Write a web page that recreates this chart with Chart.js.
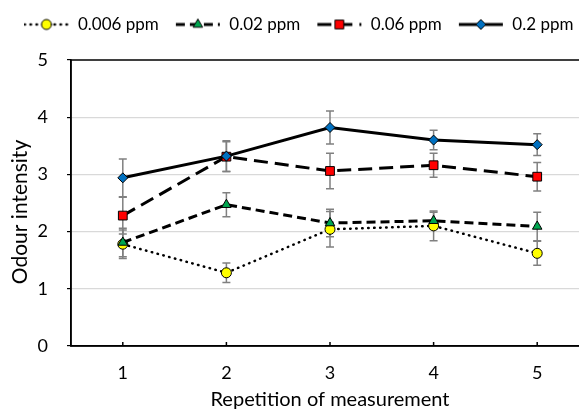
<!DOCTYPE html>
<html>
<head>
<meta charset="utf-8">
<script src="https://cdn.jsdelivr.net/npm/chart.js@4.4.0/dist/chart.umd.min.js"></script>
<style>
  html, body { margin: 0; padding: 0; background: #fff; }
  #wrap { width: 579px; height: 411px; overflow: hidden; }
  canvas { display: block; }
</style>
</head>
<body>
<div id="wrap"><canvas id="odour" width="640" height="411"></canvas></div>
<script>
// measurement repetitions and mean odour intensity per concentration
const repetitions = ['1', '2', '3', '4', '5'];
const seriesNames = ['0.006 ppm', '0.02 ppm', '0.06 ppm', '0.2 ppm'];
const mean006 = [1.78, 1.28, 2.04, 2.10, 1.62];
const mean02  = [1.81, 2.47, 2.15, 2.19, 2.09];
const mean06  = [2.28, 3.31, 3.06, 3.16, 2.96];
const mean2   = [2.94, 3.32, 3.82, 3.60, 3.52];
// standard errors (half length of each error bar)
const err006 = [0.25, 0.17, 0.31, 0.26, 0.21];
const err02  = [0.25, 0.21, 0.24, 0.15, 0.25];
const err06  = [0.32, 0.26, 0.31, 0.21, 0.25];
const err2   = [0.33, 0.27, 0.29, 0.17, 0.19];
const yTicks = [0, 1, 2, 3, 4, 5];

const means = [mean006, mean02, mean06, mean2];
const errs = [err006, err02, err06, err2];

const FONT = 'Lato';
const FS = 18;
Chart.defaults.font.family = FONT;
Chart.defaults.font.size = FS;
Chart.defaults.color = '#000';

const styles = [
  {marker: 'circle',   fill: '#ffff00', radius: 5,   dash: [0.5, 5.5], cap: 'round', width: 2.5},
  {marker: 'triangle', fill: '#00a650', radius: 5.5, dash: [9, 5],     cap: 'butt',  width: 3},
  {marker: 'rect',     fill: '#ff0000', radius: 6.2, dash: [14, 7],    cap: 'butt',  width: 3},
  {marker: 'rectRot',  fill: '#0070c0', radius: 5,   dash: [],         cap: 'butt',  width: 3}
];

// line + marker swatch used as the legend symbol
function legendIcon(s){
  const c = document.createElement('canvas');
  c.width = 46; c.height = 16;
  const g = c.getContext('2d');
  g.strokeStyle = '#000';
  g.lineWidth = s.width;
  g.lineCap = s.cap;
  g.setLineDash(s.dash);
  g.beginPath(); g.moveTo(1, 8); g.lineTo(45, 8); g.stroke();
  g.setLineDash([]);
  g.fillStyle = s.fill;
  g.lineWidth = 1;
  Chart.helpers.drawPoint(g, {pointStyle: s.marker, radius: s.radius, borderWidth: 1, rotation: 0}, 23, 8);
  return c;
}
const icons = styles.map(legendIcon);

const datasets = seriesNames.map((name, i) => ({
  label: name,
  data: means[i],
  errors: errs[i],
  borderColor: '#000',
  borderWidth: styles[i].width,
  borderDash: styles[i].dash,
  borderCapStyle: styles[i].cap,
  pointStyle: styles[i].marker,
  pointRadius: styles[i].radius,
  pointHoverRadius: styles[i].radius,
  pointBackgroundColor: styles[i].fill,
  pointBorderColor: '#000',
  pointBorderWidth: 1,
  tension: 0,
  fill: false,
  order: seriesNames.length - 1 - i
}));

// fixed legend band above the plot
const legendHeight = {
  id: 'legendHeight',
  beforeLayout(chart){
    const lg = chart.legend;
    if (lg && !lg._fixed){
      const fit = lg.fit;
      lg.fit = function(){ fit.call(this); this.height = 60; };
      lg._fixed = true;
    }
  }
};

// error bars, frame and inward x tick marks
const errorBars = {
  id: 'errorBars',
  beforeDatasetsDraw(chart){
    const {ctx, chartArea: a, scales: {x, y}} = chart;
    ctx.save();
    ctx.strokeStyle = '#808080';
    ctx.lineWidth = 1.5;
    chart.data.datasets.forEach(ds => {
      ds.data.forEach((v, j) => {
        const e = ds.errors[j];
        const px = x.getPixelForValue(j);
        const top = y.getPixelForValue(v + e);
        const bot = y.getPixelForValue(v - e);
        ctx.beginPath();
        ctx.moveTo(px, top); ctx.lineTo(px, bot);
        ctx.moveTo(px - 4, top); ctx.lineTo(px + 4, top);
        ctx.moveTo(px - 4, bot); ctx.lineTo(px + 4, bot);
        ctx.stroke();
      });
    });
    ctx.strokeStyle = '#000';
    ctx.lineWidth = 1.5;
    ctx.strokeRect(a.left, a.top, a.right - a.left, a.bottom - a.top);
    ctx.beginPath();
    x.ticks.forEach((t, j) => {
      const px = x.getPixelForTick(j);
      ctx.moveTo(px, a.bottom); ctx.lineTo(px, a.bottom - 4);
    });
    ctx.stroke();
    ctx.restore();
  }
};

// axis titles
const axisTitles = {
  id: 'axisTitles',
  afterDraw(chart){
    const {ctx, chartArea: a} = chart;
    ctx.save();
    ctx.fillStyle = '#000';
    ctx.font = '20px ' + FONT;
    ctx.textAlign = 'center';
    ctx.textBaseline = 'middle';
    ctx.fillText('Repetition of measurement', (a.left + a.right) / 2, 400);
    ctx.translate(20, (a.top + a.bottom) / 2 + 9);
    ctx.rotate(-Math.PI / 2);
    ctx.font = '21px ' + FONT;
    ctx.fillText('Odour intensity', 0, 0);
    ctx.restore();
  }
};

new Chart(document.getElementById('odour'), {
  type: 'line',
  data: {labels: repetitions, datasets},
  options: {
    responsive: false,
    animation: false,
    devicePixelRatio: 1,
    layout: {padding: {left: 7.5, right: 0, top: 0, bottom: 0}},
    plugins: {
      tooltip: {enabled: false},
      legend: {
        position: 'top',
        align: 'start',
        labels: {
          usePointStyle: true,
          pointStyleWidth: 46,
          padding: 16,
          font: {size: 17},
          generateLabels(chart){
            const items = Chart.defaults.plugins.legend.labels.generateLabels(chart)
              .sort((a, b) => a.datasetIndex - b.datasetIndex);
            items.forEach(it => { it.pointStyle = icons[it.datasetIndex]; });
            return items;
          }
        }
      }
    },
    scales: {
      x: {
        offset: true,
        grid: {display: true, drawOnChartArea: false, drawTicks: false},
        border: {color: '#000', width: 1.5},
        ticks: {padding: 16, font: {size: FS}},
        afterFit(s){ s.height = 65; }
      },
      y: {
        min: yTicks[0],
        max: yTicks[yTicks.length - 1],
        afterBuildTicks(s){ s.ticks = yTicks.map(v => ({value: v})); },
        grid: {
          color: c => (c.tick && (c.tick.value === yTicks[0] || c.tick.value === yTicks[yTicks.length - 1])) ? 'rgba(0,0,0,0)' : '#d9d9d9',
          lineWidth: 1.2,
          tickLength: 4,
          tickColor: '#000'
        },
        border: {color: '#000', width: 1.5},
        ticks: {padding: 19, font: {size: FS}},
        afterFit(s){ s.width = 63.5; }
      },
      // empty right-hand axis: keeps the plot edge past the visible area
      yRight: {
        position: 'right',
        min: yTicks[0],
        max: yTicks[yTicks.length - 1],
        grid: {display: false},
        border: {display: false},
        ticks: {display: false},
        afterFit(s){ s.width = 51; }
      }
    }
  },
  plugins: [legendHeight, errorBars, axisTitles]
});
</script>
</body>
</html>
